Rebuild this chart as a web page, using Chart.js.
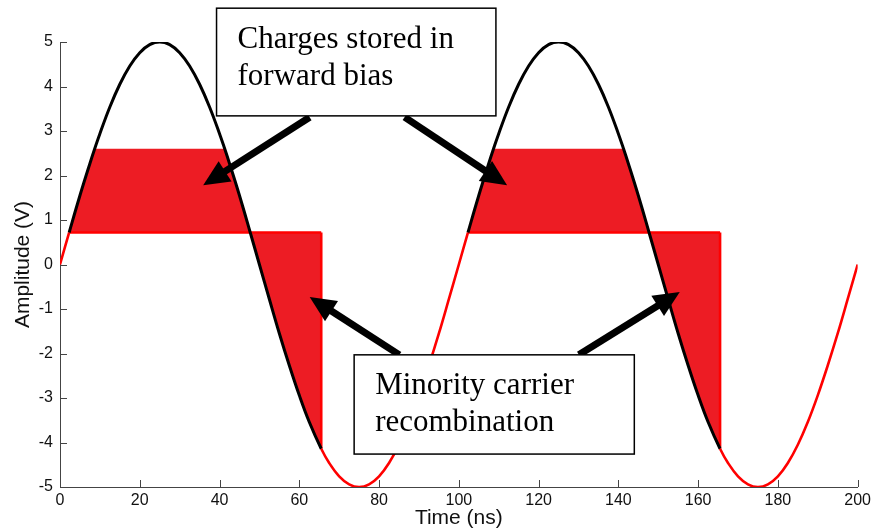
<!DOCTYPE html>
<html><head><meta charset="utf-8">
<script src="https://cdn.jsdelivr.net/npm/chart.js@4/dist/chart.umd.min.js"></script>
<style>html,body{margin:0;padding:0;background:#fff}</style>
</head><body>
<canvas id="c" width="875" height="531"></canvas>
<script>
// ---- data ----
const timeNs = [0, 2.3, 5, 7.5, 8.7, 10, 12.5, 15, 17.5, 20, 22.5, 25, 27.5, 30, 32.5, 35, 37.5, 40, 41.3, 42.5, 45, 47.7,
  50, 52.5, 55, 57.5, 60, 62.5, 65.5, 67.5, 70, 72.5, 75, 77.5, 80, 82.5, 85, 87.5, 90, 92.5, 95, 97.5,
  100, 102.3, 105, 107.5, 108.7, 110, 112.5, 115, 117.5, 120, 122.5, 125, 127.5, 130, 132.5, 135, 137.5, 140, 141.3, 142.5, 145, 147.7,
  150, 152.5, 155, 157.5, 160, 162.5, 165.5, 167.5, 170, 172.5, 175, 177.5, 180, 182.5, 185, 187.5, 190, 192.5, 195, 197.5, 200];
const amplitudeV = [0, 0.72, 1.55, 2.27, 2.6, 2.94, 3.54, 4.05, 4.46, 4.76, 4.94, 5, 4.94, 4.76, 4.46, 4.05, 3.54, 2.94, 2.6, 2.27, 1.55, 0.72,
  0, -0.78, -1.55, -2.27, -2.94, -3.54, -4.14, -4.46, -4.76, -4.94, -5, -4.94, -4.76, -4.46, -4.05, -3.54, -2.94, -2.27, -1.55, -0.78,
  0, 0.72, 1.55, 2.27, 2.6, 2.94, 3.54, 4.05, 4.46, 4.76, 4.94, 5, 4.94, 4.76, 4.46, 4.05, 3.54, 2.94, 2.6, 2.27, 1.55, 0.72,
  0, -0.78, -1.55, -2.27, -2.94, -3.54, -4.14, -4.46, -4.76, -4.94, -5, -4.94, -4.76, -4.46, -4.05, -3.54, -2.94, -2.27, -1.55, -0.78, 0];
const xTickValues = [0, 20, 40, 60, 80, 100, 120, 140, 160, 180, 200];
const yTickValues = [-5, -4, -3, -2, -1, 0, 1, 2, 3, 4, 5];
const forwardThresholdV = 0.72;
const storedLevelV = 2.6;
const conductionStartNs = [2.3, 102.3];
const storedEndNs = [47.7, 147.7];
const conductionEndNs = [65.5, 165.5];
const xTitle = 'Time (ns)';
const yTitle = 'Amplitude (V)';
const noteLines = [["Charges stored in", "forward bias"], ["Minority carrier", "recombination"]];

// ---- styles / layout ----
const RED = '#ff0000', FILL = '#ed1c24', EPS = 1e-6;
const wave = timeNs.map((t, i) => ({x: t, y: amplitudeV[i]}));
const between = (a, b) => wave.filter(p => p.x >= a - EPS && p.x <= b + EPS);
const isConducting = (a, b) => conductionStartNs.some((s, k) => a >= s - EPS && b <= conductionEndNs[k] + EPS);

const datasets = [{
  data: wave, borderColor: RED, borderWidth: 2.6, tension: 0.4, pointRadius: 0, fill: false, order: 0,
  segment: { borderColor: c => isConducting(c.p0.parsed.x, c.p1.parsed.x) ? '#000' : RED,
             borderWidth: c => isConducting(c.p0.parsed.x, c.p1.parsed.x) ? 3 : 2.6 }
}];
conductionStartNs.forEach((s, k) => {
  const e = conductionEndNs[k], m = storedEndNs[k];
  const thrIdx = datasets.length;
  datasets.push({ data: between(s, e).map(p => ({x: p.x, y: forwardThresholdV})),
    borderColor: RED, borderWidth: 2.4, pointRadius: 0, fill: false, order: 1, tension: 0 });
  datasets.push({ data: between(s, m).map(p => ({x: p.x, y: Math.min(p.y, storedLevelV)})),
    borderWidth: 0, borderColor: FILL, backgroundColor: FILL, pointRadius: 0, fill: thrIdx, order: 2, tension: 0 });
  datasets.push({ data: between(m, e),
    borderWidth: 0, borderColor: FILL, backgroundColor: FILL, pointRadius: 0, fill: thrIdx, order: 2, tension: 0 });
  const endV = between(e, e)[0].y;
  datasets.push({ data: [{x: e, y: forwardThresholdV}, {x: e, y: endV}],
    borderColor: RED, borderWidth: 2.6, pointRadius: 0, fill: false, order: 1 });
});

const notesLayout = {
  boxes: [ {x1: 39.25, x2: 109.3, yTop: 5.76, yBot: 3.34}, {x1: 73.75, x2: 144, yTop: -2.03, yBot: -4.26} ],
  arrows: [ {from: [62.6, 3.31], to: [35.9, 1.78]}, {from: [86.4, 3.31], to: [112.1, 1.78]},
            {from: [85.1, -2.03], to: [62.6, -0.73]}, {from: [130.1, -2.03], to: [155.4, -0.62]} ]
};

const notesPlugin = {
  id: 'notes',
  afterDraw(chart) {
    const {ctx, scales: {x, y}} = chart;
    const px = v => x.getPixelForValue(v), py = v => y.getPixelForValue(v);
    ctx.save();
    // inward tick marks
    ctx.strokeStyle = '#444'; ctx.lineWidth = 1;
    const ca = chart.chartArea;
    ctx.beginPath();
    xTickValues.forEach(v => { const X = Math.round(px(v)) + 0.5; ctx.moveTo(X, ca.bottom); ctx.lineTo(X, ca.bottom - 7); });
    yTickValues.forEach(v => { const Y = Math.round(py(v)) + 0.5; ctx.moveTo(ca.left, Y); ctx.lineTo(ca.left + 7, Y); });
    ctx.stroke();
    // arrows
    notesLayout.arrows.forEach(a => {
      const x0 = px(a.from[0]), y0 = py(a.from[1]), x1 = px(a.to[0]), y1 = py(a.to[1]);
      const ang = Math.atan2(y1 - y0, x1 - x0), L = 26, W = 12;
      const bx = x1 - L * Math.cos(ang), by = y1 - L * Math.sin(ang);
      ctx.strokeStyle = '#000'; ctx.lineWidth = 7; ctx.lineCap = 'butt';
      ctx.beginPath(); ctx.moveTo(x0, y0); ctx.lineTo(bx + 2 * Math.cos(ang), by + 2 * Math.sin(ang)); ctx.stroke();
      ctx.fillStyle = '#000';
      ctx.beginPath(); ctx.moveTo(x1, y1);
      ctx.lineTo(bx + W * Math.sin(ang), by - W * Math.cos(ang));
      ctx.lineTo(bx - W * Math.sin(ang), by + W * Math.cos(ang));
      ctx.closePath(); ctx.fill();
    });
    // boxes with text
    notesLayout.boxes.forEach((b, i) => {
      const X1 = px(b.x1), X2 = px(b.x2), T = py(b.yTop), B = py(b.yBot);
      ctx.fillStyle = '#fff'; ctx.fillRect(X1, T, X2 - X1, B - T);
      ctx.strokeStyle = '#000'; ctx.lineWidth = 1.5; ctx.strokeRect(X1, T, X2 - X1, B - T);
      ctx.fillStyle = '#000'; ctx.font = '31px "Liberation Serif"'; ctx.textBaseline = 'alphabetic'; ctx.textAlign = 'left';
      noteLines[i].forEach((line, j) => ctx.fillText(line, X1 + 21, T + 39.5 + j * 37));
    });
    ctx.restore();
  }
};

Chart.defaults.font.family = '"Liberation Sans", Arial, sans-serif';
new Chart(document.getElementById('c'), {
  type: 'line',
  data: { datasets },
  options: {
    responsive: false, animation: false, devicePixelRatio: 1,
    layout: { padding: { top: 42, right: 15, left: 0, bottom: 0 } },
    plugins: { legend: { display: false }, tooltip: { enabled: false } },
    scales: {
      x: { type: 'linear', min: 0, max: 200,
        afterBuildTicks: s => { s.ticks = xTickValues.map(v => ({value: v})); },
        ticks: { font: { size: 16 }, color: '#111', padding: 4, maxRotation: 0, autoSkip: false },
        grid: { drawOnChartArea: false, drawTicks: false },
        border: { color: '#444', width: 1 },
        title: { display: true, text: xTitle, font: { size: 21 }, color: '#111', padding: { top: 0, bottom: 0 } },
        afterFit: s => { s.height = 44; } },
      y: { type: 'linear', min: -5, max: 5,
        afterBuildTicks: s => { s.ticks = yTickValues.map(v => ({value: v})); },
        ticks: { font: { size: 16 }, color: '#111', padding: 7, autoSkip: false },
        grid: { drawOnChartArea: false, drawTicks: false },
        border: { color: '#444', width: 1 },
        title: { display: true, text: yTitle, font: { size: 21 }, color: '#111', padding: { top: 11, bottom: 0 } },
        afterFit: s => { s.width = 60; } }
    }
  },
  plugins: [notesPlugin]
});
</script>
</body></html>
